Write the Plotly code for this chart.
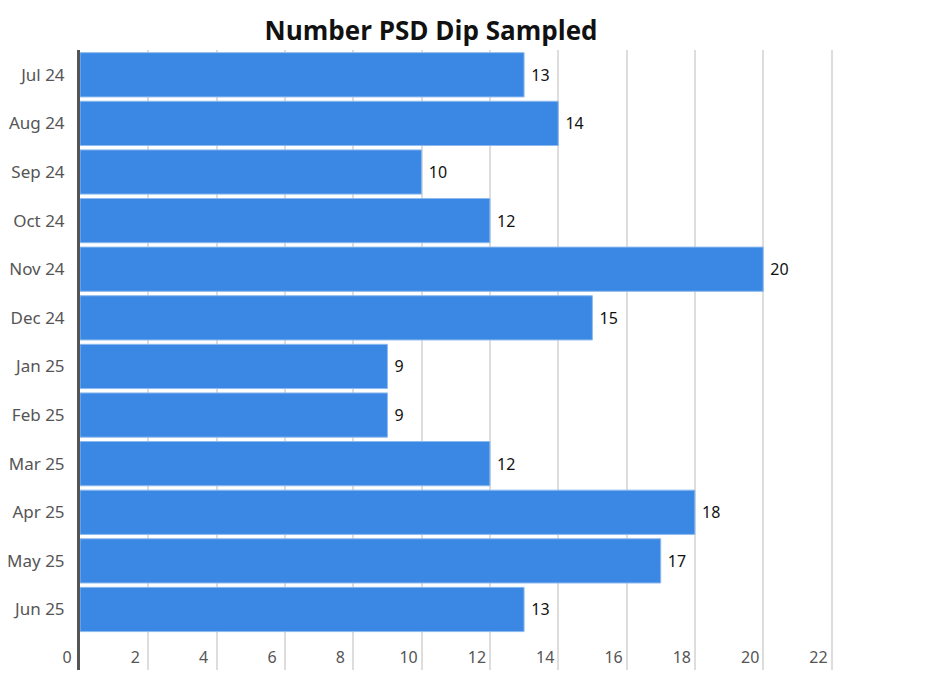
import plotly.graph_objects as go

months = ["Jul 24", "Aug 24", "Sep 24", "Oct 24", "Nov 24", "Dec 24",
          "Jan 25", "Feb 25", "Mar 25", "Apr 25", "May 25", "Jun 25"]
counts = [13, 14, 10, 12, 20, 15, 9, 9, 12, 18, 17, 13]
x_ticks = [0, 2, 4, 6, 8, 10, 12, 14, 16, 18, 20, 22]

fig = go.Figure(go.Bar(
    y=months, x=counts, orientation="h",
    marker=dict(color="#3a88e4", line=dict(color="#8cb9ef", width=1)),
    text=[f" {c}" for c in counts], textposition="outside",
    textfont=dict(family="Noto Sans, Open Sans, sans-serif", size=16, color="#111111"),
    cliponaxis=False,
))

fig.update_layout(
    width=929, height=698,
    margin=dict(l=80, r=77, t=50, b=28, autoexpand=False),
    paper_bgcolor="white", plot_bgcolor="white",
    bargap=0.09,
    showlegend=False,
    title=dict(text="<b>Number PSD Dip Sampled</b>", x=0.464, xanchor="center",
               y=1 - 31 / 698, yanchor="middle",
               font=dict(family="Open Sans, Lato, sans-serif", size=26, color="#111111")),
    xaxis=dict(range=[0, 22.6], tickvals=x_ticks, showgrid=True, gridcolor="#dddddd",
               gridwidth=1.5, zeroline=False, showline=False, automargin=False,
               ticklabelposition="outside", ticks="",
               ticklabelshift=-13, ticklabelstandoff=-24,
               tickfont=dict(family="Noto Sans, sans-serif", size=16, color="#555555")),
    yaxis=dict(categoryorder="array", categoryarray=months, autorange=False,
               range=[12.245, -0.51], showgrid=False, zeroline=False, automargin=False,
               showline=True, linecolor="#555555", linewidth=3,
               ticks="", ticklabelstandoff=9,
               tickfont=dict(family="Noto Sans, sans-serif", size=17, color="#555555")),
)

fig.write_html("out.html")
